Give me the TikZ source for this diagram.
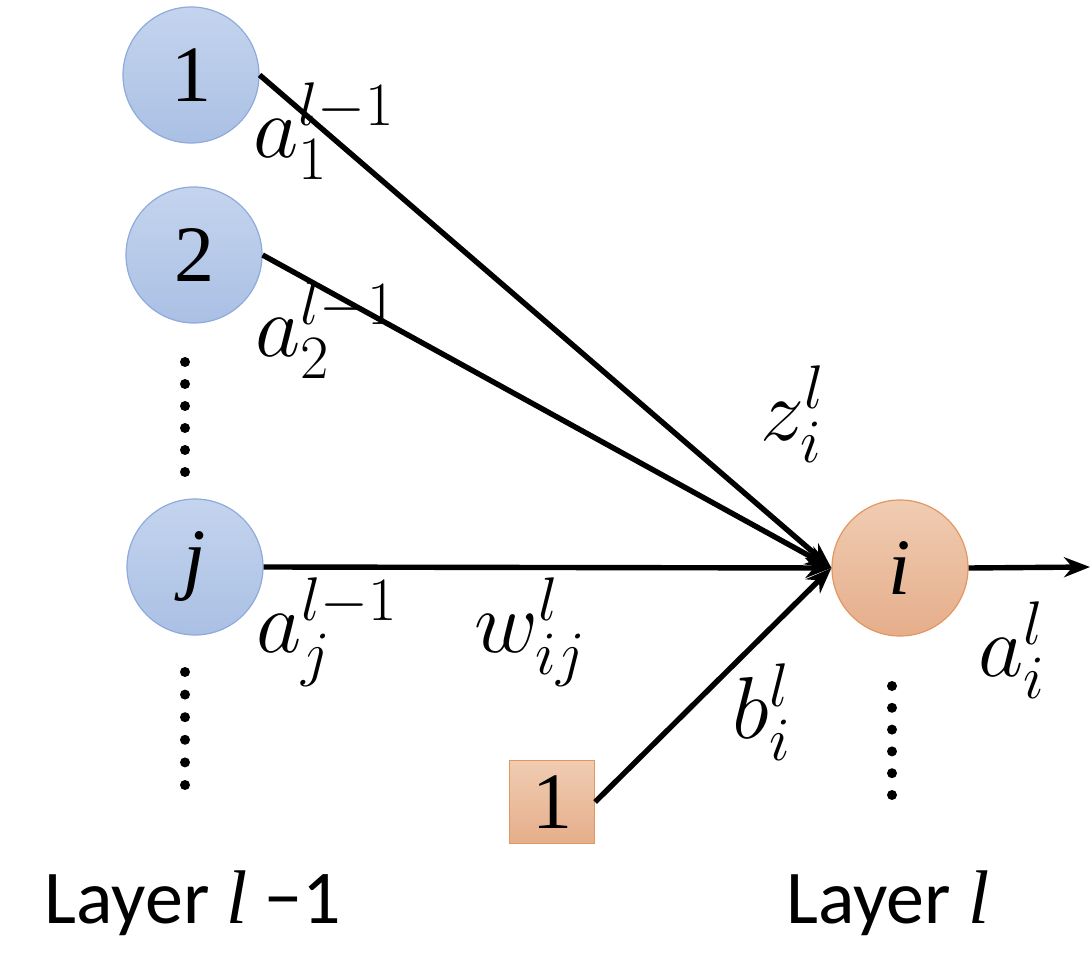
\RequirePackage{fix-cm}
\documentclass[tikz,border=0pt]{standalone}
\usepackage{amsmath}
\usepackage{fontspec}
\setmainfont{Liberation Serif}
\newfontfamily\layerfont{Carlito}
\usepackage{xcolor}
\usepackage{tikz}
\usetikzlibrary{arrows.meta,positioning}

\definecolor{nbluetop}{RGB}{196,212,238}
\definecolor{nbluebot}{RGB}{170,192,228}
\definecolor{nblueline}{RGB}{143,170,220}
\definecolor{norangetop}{RGB}{240,204,178}
\definecolor{norangebot}{RGB}{229,174,139}
\definecolor{norangeline}{RGB}{228,150,95}

\begin{document}
\begin{tikzpicture}[x=0.5pt,y=-0.5pt,
  prev/.style={circle,draw=nblueline,line width=0.6pt,top color=nbluetop,bottom color=nbluebot,minimum size=68pt,inner sep=0pt,font=\fontsize{40}{40}\selectfont},
  cur/.style={circle,draw=norangeline,line width=0.6pt,top color=norangetop,bottom color=norangebot,minimum size=68pt,inner sep=0pt,font=\fontsize{40}{40}\selectfont},
  bias/.style={rectangle,draw=norangeline,line width=0.6pt,top color=norangetop,bottom color=norangebot,minimum width=42.5pt,minimum height=41.5pt,inner sep=0pt,font=\fontsize{40}{40}\selectfont},
  wire/.style={line width=2.7pt,-{Stealth[length=13pt,width=10pt]}},
  lbl/.style={inner sep=0pt,font=\fontsize{44}{44}\selectfont},
  lay/.style={inner sep=0pt,font=\layerfont\fontsize{38}{38}\selectfont}]
 \useasboundingbox (0,0) rectangle (1092,972);
 \node[prev] (n1) at (191,75) {1};
 \node[prev] (n2) at (194,255) {2};
 \node[prev] (nj) at (195,567) {\itshape j};
 \node[cur]  (ni) at (900,568) {\itshape i};
 \node[bias] (one) at (552,802) {1};
 \coordinate (out) at (1090,567);
 \foreach \k in {0,...,5} {
   \fill (185,362+22*\k) circle (2.5pt);
   \fill (185,672+22.6*\k) circle (2.5pt);
   \fill (892,686+21.8*\k) circle (2.5pt);
 }
 \draw[wire] (n1.east)--(ni.west);
 \draw[wire] (n2.east)--(ni.west);
 \draw[wire] (nj.east)--(ni.west);
 \draw[wire] (one.east)--(ni.west);
 \draw[wire] (ni.east)--(out);
 \node[lbl] (a1) at (324,131) {$a^{l{-}1}_1$};
 \node[lbl] (a2) at (326,330) {$a^{l{-}1}_2$};
 \node[lbl] (aj) at (327,632) {$a^{l{-}1}_j$};
 \node[lbl] (w)  at (530,632) {$w^l_{ij}$};
 \node[lbl] (z)  at (793,414) {$z^l_i$};
 \node[lbl] (b)  at (762,712) {$b^l_i$};
 \node[lbl] (ai) at (1012,650) {$a^l_i$};
 \node[lay] (lprev) at (193,903) {Layer {\fontspec{Liberation Serif}\itshape l} −1};
 \node[lay] (lcur)  at (888,903) {Layer {\fontspec{Liberation Serif}\itshape l}};
\end{tikzpicture}
\end{document}
